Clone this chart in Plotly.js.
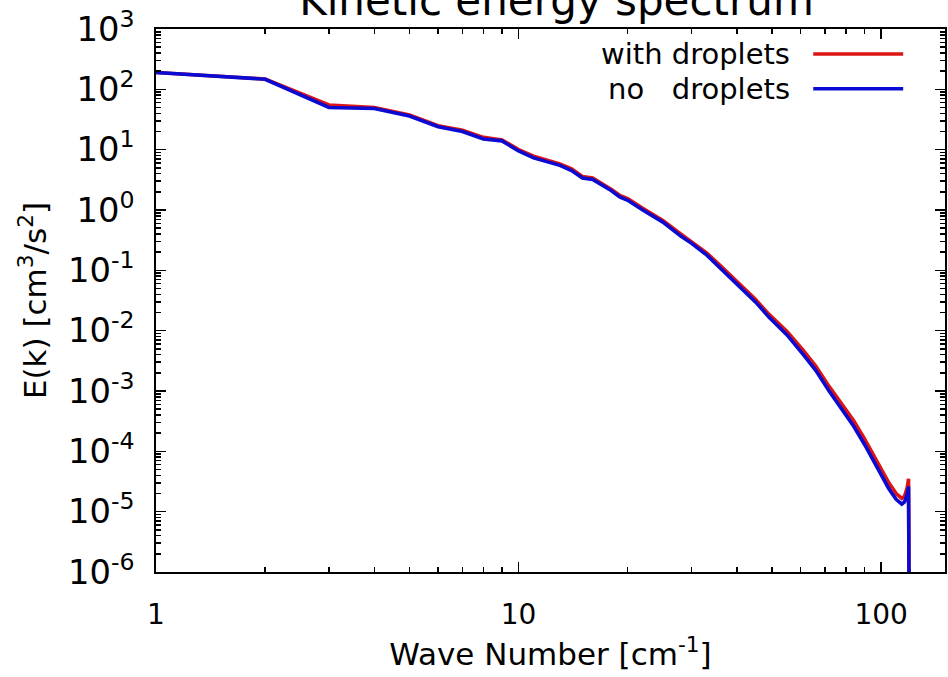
<!DOCTYPE html>
<html>
<head>
<meta charset="utf-8">
<script src="https://cdn.plot.ly/plotly-3.0.1.min.js"></script>
<style>html,body{margin:0;padding:0;background:#fff;}#chart{width:948px;height:677px;}</style>
</head>
<body>
<div id="chart"></div>
<script>
// Wave numbers (cm^-1)
const waveNumber = [1,2,3,4,5,6,7,8,9,10,11,12,13,14,15,16,17,18,19,20,22,25,28,30,33,36,40,45,49,55,61,66,72,78,84,90,95,100,105,110,114,116,118,119,120];
// E(k) with droplets
const withDroplets = [190,148,55,50,37.5,25,21,16,14.5,10,7.8,6.8,5.8,4.8,3.6,3.4,2.75,2.2,1.75,1.55,1.07,0.67,0.40,0.30,0.195,0.12,0.064,0.033,0.0188,0.0097,4.7e-3,2.6e-3,1.17e-3,6.1e-4,3.2e-4,1.6e-4,9.0e-5,5.2e-5,3.0e-5,2.0e-5,1.66e-5,1.8e-5,2.5e-5,3.5e-5,1e-9];
// E(k) without droplets
const noDroplets = [190,147,50,48,36,24,20,15,14,9.5,7.3,6.4,5.5,4.5,3.4,3.2,2.6,2.1,1.65,1.45,1.0,0.63,0.37,0.28,0.18,0.11,0.058,0.030,0.0168,0.0085,4.0e-3,2.2e-3,9.8e-4,5.0e-4,2.6e-4,1.3e-4,7.3e-5,4.2e-5,2.4e-5,1.6e-5,1.33e-5,1.45e-5,1.95e-5,2.6e-5,1e-9];

// y tick labels (decade exponents and the text shown for them)
const yTickExponents = [-6,-5,-4,-3,-2,-1,0,1,2,3];
const yTickText = ['10<sup>-6</sup>','10<sup>-5</sup>','10<sup>-4</sup>','10<sup>-3</sup>','10<sup>-2</sup>','10<sup>-1</sup>','10<sup>0</sup>','10<sup>1</sup>','10<sup>2</sup>','10<sup>3</sup>'];

const seriesNames = ['with droplets', 'no\u00a0\u00a0\u00a0droplets'];
const seriesColors = ['#dc1414', '#0a0ad2'];

const FONT = 'DejaVu Sans, Liberation Sans, sans-serif';

// map Plotly's default power labels to the reference's labels
const MINUS = '\u2212';
const yAlias = {};
yTickExponents.forEach((p, i) => {
  let def;
  if (p === 0) def = '1';
  else if (p === 1) def = '10';
  else def = '10<sup>' + (p > 1 ? '' : MINUS) + Math.abs(p) + '</sup>';
  yAlias[def] = yTickText[i];
});

const traces = [
  {x: waveNumber, y: withDroplets, type: 'scatter', mode: 'lines', name: seriesNames[0],
   line: {color: seriesColors[0], width: 3.6}, showlegend: false},
  {x: waveNumber, y: noDroplets, type: 'scatter', mode: 'lines', name: seriesNames[1],
   line: {color: seriesColors[1], width: 3.6}, showlegend: false}
];

const axisCommon = {
  type: 'log', showgrid: false, zeroline: false,
  showline: true, linecolor: '#000', linewidth: 2, mirror: 'allticks',
  tickmode: 'linear', tick0: 0, dtick: 1,
  ticks: 'inside', ticklen: 10, tickwidth: 1.5, tickcolor: '#000',
  tickfont: {family: FONT, size: 28, color: '#000'},
  minor: {ticks: 'inside', ticklen: 5, tickwidth: 1.5, tickcolor: '#000', dtick: 'D1', showgrid: false}
};

const legendY = [0.954, 0.890];
const annotations = seriesNames.map((n, i) => ({
  text: n, xref: 'paper', yref: 'paper', x: 0.806, y: legendY[i],
  xanchor: 'right', yanchor: 'middle', showarrow: false,
  font: {family: FONT, size: 29, color: '#000'}
}));
const shapes = seriesColors.map((c, i) => ({
  type: 'line', xref: 'paper', yref: 'paper', x0: 0.833, x1: 0.947, y0: legendY[i], y1: legendY[i],
  line: {color: c, width: 3.6}
}));

const layout = {
  width: 948, height: 677,
  margin: {l: 156, r: 3, t: 29, b: 105},
  paper_bgcolor: '#fff', plot_bgcolor: '#fff',
  title: {text: 'Kinetic energy spectrum', font: {family: FONT, size: 42, color: '#000'},
          x: 0.587, xanchor: 'center', xref: 'container', y: 1, yref: 'container', yanchor: 'middle'},
  xaxis: Object.assign({}, axisCommon, {
    range: [0, Math.log10(150)], ticklabelstandoff: 16,
    title: {text: 'Wave Number [cm<sup>-1</sup>]', font: {family: FONT, size: 31, color: '#000'}, standoff: 14}
  }),
  yaxis: Object.assign({}, axisCommon, {
    range: [-6, 3], exponentformat: 'power', labelalias: yAlias, ticklabelstandoff: 14,
    tickfont: {family: FONT, size: 27, color: '#000'},
    title: {text: 'E(k) [cm<sup>3</sup>/s<sup>2</sup>]', font: {family: FONT, size: 31, color: '#000'}, standoff: 12}
  }),
  annotations: annotations,
  shapes: shapes
};

Plotly.newPlot('chart', traces, layout, {displayModeBar: false, staticPlot: true});
</script>
</body>
</html>
